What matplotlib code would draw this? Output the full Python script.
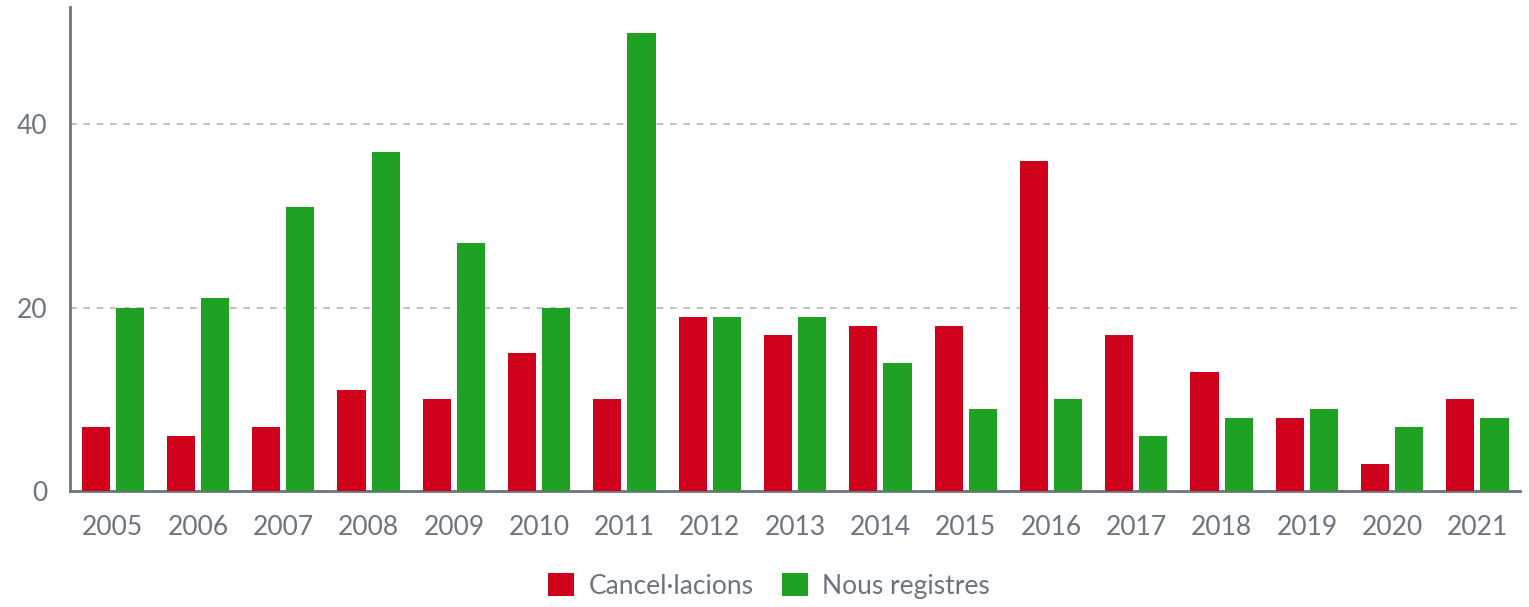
import matplotlib.pyplot as plt
import numpy as np

years = [str(y) for y in range(2005, 2022)]
cancellations = [7, 6, 7, 11, 10, 15, 10, 19, 17, 18, 18, 36, 17, 13, 8, 3, 10]
new_registrations = [20, 21, 31, 37, 27, 20, 50, 19, 19, 14, 9, 10, 6, 8, 9, 7, 8]

RED = "#d0021b"
GREEN = "#1fa224"
TEXT = "#6b7480"

plt.rcParams["font.family"] = ["Lato", "DejaVu Sans"]

fig = plt.figure(figsize=(15.29, 6.07), dpi=100)
ax = fig.add_axes([0.0458, 0.191, 0.9484, 0.797])

x = np.arange(len(years))
width = 0.33
ax.bar(x - 0.2, cancellations, width, color=RED, label="Cancel·lacions", zorder=3)
ax.bar(x + 0.2, new_registrations, width, color=GREEN, label="Nous registres", zorder=3)

ax.set_xlim(-0.5, len(years) - 0.5)
ax.set_ylim(0, 52.75)
ax.set_yticks([0, 20, 40])
ax.set_xticks(x)
ax.set_xticklabels(years)

ax.yaxis.grid(True, linestyle=(0, (4, 4)), color="#b4b6ba", linewidth=1.2, zorder=0)
for side in ("top", "right"):
    ax.spines[side].set_visible(False)
for side in ("left", "bottom"):
    ax.spines[side].set_color(TEXT)
    ax.spines[side].set_linewidth(2)

ax.tick_params(axis="both", length=0, labelsize=19, labelcolor=TEXT)
ax.tick_params(axis="x", pad=17)
ax.tick_params(axis="y", pad=16)

# legend centred on the whole figure, below the year labels
leg = fig.legend(loc="center", bbox_to_anchor=(0.503, 0.035), ncol=2,
                 frameon=False, fontsize=19, handlelength=1.0, handleheight=1.0,
                 handletextpad=0.55, columnspacing=1.05, labelcolor=TEXT)

fig.savefig("out.png", dpi=100, facecolor="white")
